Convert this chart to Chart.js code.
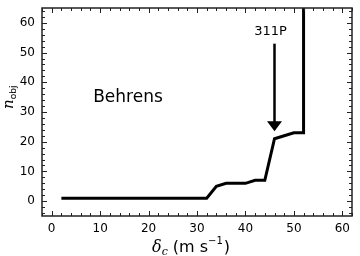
<!DOCTYPE html>
<html>
<head>
<meta charset="utf-8">
<script src="https://cdn.jsdelivr.net/npm/chart.js@4/dist/chart.umd.min.js"></script>
<style>
  html,body{margin:0;padding:0;background:#fff;}
  #wrap{width:360px;height:256px;}
</style>
</head>
<body>
<div id="wrap"><canvas id="c" width="360" height="256"></canvas></div>
<script>
// curve
const deltaC = [2, 32, 34, 36, 40, 42, 44, 46, 48, 50, 52, 52];
const nObj   = [1, 1, 5, 6, 6, 7, 7, 21, 22, 23, 23, 80];
const xTicks = [0, 10, 20, 30, 40, 50, 60];
const yTicks = [0, 10, 20, 30, 40, 50, 60];
const label311P = {x: 46, text: '311P', textY: 57, from: 53, to: 23.5};
const panelName = 'Behrens';

const font = 'DejaVu Sans, sans-serif';

const decor = {
  id: 'decor',
  afterDraw(chart){
    const ctx = chart.ctx, a = chart.chartArea;
    const xs = chart.scales.x, ys = chart.scales.y;
    ctx.save();
    ctx.strokeStyle = '#222';
    ctx.lineWidth = 1;
    // inward ticks on all four sides
    for(let v = -2; v <= 62; v += 2){
      const px = Math.round(xs.getPixelForValue(v)) + 0.5;
      const len = v % 10 === 0 ? 5 : 3;
      ctx.beginPath();
      ctx.moveTo(px, a.bottom); ctx.lineTo(px, a.bottom - len);
      ctx.moveTo(px, a.top); ctx.lineTo(px, a.top + len);
      ctx.stroke();
    }
    for(let v = -4; v <= 64; v += 2){
      const py = Math.round(ys.getPixelForValue(v)) + 0.5;
      const len = v % 10 === 0 ? 5 : 3;
      ctx.beginPath();
      ctx.moveTo(a.left, py); ctx.lineTo(a.left + len, py);
      ctx.moveTo(a.right, py); ctx.lineTo(a.right - len, py);
      ctx.stroke();
    }
    // frame
    ctx.lineWidth = 1.5;
    ctx.strokeRect(a.left, a.top, a.right - a.left, a.bottom - a.top);

    // arrow + label
    const ax = xs.getPixelForValue(label311P.x);
    const y0 = ys.getPixelForValue(label311P.from);
    const y1 = ys.getPixelForValue(label311P.to);
    ctx.fillStyle = '#000';
    ctx.strokeStyle = '#000';
    ctx.lineWidth = 2.5;
    ctx.beginPath(); ctx.moveTo(ax, y0); ctx.lineTo(ax, y1 - 9); ctx.stroke();
    ctx.beginPath();
    ctx.moveTo(ax - 7.5, y1 - 10); ctx.lineTo(ax + 7.5, y1 - 10); ctx.lineTo(ax, y1); ctx.closePath();
    ctx.fill();
    ctx.font = '13px ' + font;
    ctx.textAlign = 'center'; ctx.textBaseline = 'middle';
    ctx.fillText(label311P.text, ax - 4, ys.getPixelForValue(label311P.textY));

    ctx.font = '17px ' + font;
    ctx.fillText(panelName, 128, 98);

    // x axis title: delta_c (m s^-1)
    ctx.textAlign = 'left'; ctx.textBaseline = 'alphabetic';
    let x = 152, base = 252;
    ctx.font = 'italic 16px DejaVu Serif, serif';
    ctx.fillText('δ', x, base); x += ctx.measureText('δ').width;
    ctx.font = 'italic 11px DejaVu Serif, serif';
    ctx.fillText('c', x, base + 3); x += ctx.measureText('c').width + 5;
    ctx.font = '16px ' + font;
    ctx.fillText('(m s', x, base); x += ctx.measureText('(m s').width;
    ctx.font = '10px ' + font;
    ctx.fillText('−1', x, base - 8); x += ctx.measureText('−1').width + 1;
    ctx.font = '16px ' + font;
    ctx.fillText(')', x, base);

    // y axis title: n_obj
    ctx.translate(13, 109);
    ctx.rotate(-Math.PI / 2);
    x = 0;
    ctx.font = 'italic 15px DejaVu Serif, serif';
    ctx.fillText('n', x, 0); x += ctx.measureText('n').width;
    ctx.font = '9px ' + font;
    ctx.fillText('obj', x, 3);
    ctx.restore();
  }
};

new Chart(document.getElementById('c'), {
  type: 'line',
  data: {
    datasets: [{
      data: deltaC.map((x, i) => ({x, y: nObj[i]})),
      borderColor: '#000',
      borderWidth: 3,
      pointRadius: 0,
      tension: 0,
      fill: false
    }]
  },
  options: {
    responsive: false,
    animation: false,
    layout: {padding: {top: 8, right: 8, left: 0, bottom: 0}},
    plugins: {legend: {display: false}, tooltip: {enabled: false}},
    scales: {
      x: {
        type: 'linear', min: -2, max: 62,
        afterBuildTicks: s => { s.ticks = xTicks.map(v => ({value: v})); },
        afterFit: s => { s.height = 40; s.paddingLeft = 0; s.paddingRight = 0; },
        grid: {display: false, drawTicks: false},
        border: {display: false},
        ticks: {color: '#000', padding: 6, font: {family: font, size: 12}, maxRotation: 0}
      },
      y: {
        type: 'linear', min: -5, max: 65,
        afterBuildTicks: s => { s.ticks = yTicks.map(v => ({value: v})); },
        afterFit: s => { s.width = 42; s.paddingTop = 0; s.paddingBottom = 0; },
        grid: {display: false, drawTicks: false},
        border: {display: false},
        ticks: {color: '#000', padding: 7, font: {family: font, size: 12}}
      }
    }
  },
  plugins: [decor]
});
</script>
</body>
</html>
